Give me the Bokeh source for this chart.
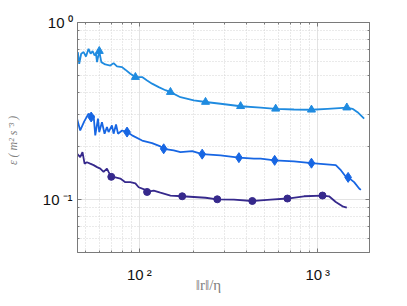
from bokeh.plotting import figure
from bokeh.models import FixedTicker, LogAxis, Range1d
from bokeh.embed import file_html
from bokeh.resources import INLINE

# ---- data ----
top_x = [45.2, 46.0, 47.2, 48.7, 50.2, 51.9, 53.3, 54.7, 56.1, 57.1, 57.9, 59.6, 61.2, 64.4,
         68.7, 71.7, 74.9, 80.0, 83.4, 89.0, 95.0, 103.6, 110.5, 117.8, 128.4, 140.0, 149.4,
         170.0, 201.9, 234.9, 285.1, 369.4, 478.5, 580.8, 736, 922, 1134, 1455, 1566, 1671, 1820]
top_y = [0.680, 0.584, 0.666, 0.680, 0.642, 0.710, 0.666, 0.689, 0.651, 0.666, 0.597, 0.689,
         0.597, 0.579, 0.571, 0.589, 0.564, 0.559, 0.541, 0.513, 0.491, 0.491, 0.470, 0.451,
         0.431, 0.414, 0.404, 0.378, 0.363, 0.355, 0.347, 0.336, 0.330, 0.325, 0.322, 0.321,
         0.325, 0.330, 0.325, 0.311, 0.286]
top_mx = [59.6, 95.0, 149.4, 234.9, 369.4, 580.8, 922, 1455]
top_my = [0.689, 0.491, 0.404, 0.355, 0.336, 0.325, 0.321, 0.330]

mid_x = [44.7, 46.6, 49.1, 51.9, 53.7, 55.4, 56.6, 58.6, 59.6, 61.7, 63.8, 65.8, 67.2, 70.2,
         71.7, 74.0, 75.9, 80.0, 85.3, 91.0, 103.6, 117.8, 131.2, 136.9, 155.8, 170.0, 197.8,
         225.0, 285.1, 361.4, 438.7, 478.5, 573.4, 736, 922, 1262, 1347, 1437, 1480, 1599,
         1706, 1744]
mid_y = [0.286, 0.245, 0.276, 0.305, 0.292, 0.298, 0.230, 0.286, 0.240, 0.273, 0.235, 0.256,
         0.240, 0.262, 0.235, 0.265, 0.235, 0.245, 0.240, 0.230, 0.215, 0.208, 0.199, 0.193,
         0.189, 0.185, 0.187, 0.180, 0.177, 0.172, 0.170, 0.170, 0.166, 0.164, 0.160, 0.156,
         0.146, 0.134, 0.133, 0.125, 0.115, 0.113]
mid_mx = [53.7, 85.3, 136.9, 225.0, 361.4, 573.4, 922, 1480]
mid_my = [0.292, 0.240, 0.193, 0.180, 0.172, 0.166, 0.160, 0.133]

bot_x = [44.7, 46.6, 48.0, 49.3, 50.8, 53.0, 55.4, 57.9, 60.4, 63.0, 65.8, 67.2, 69.6, 73.3,
         78.2, 83.4, 89.0, 95.0, 99.1, 108.1, 110.5, 120.3, 131.2, 149.4, 173.8, 201.9, 234.9,
         273.3, 338.7, 429.7, 478.5, 544.5, 675.9, 837.6, 1063, 1157, 1262, 1376, 1455]
bot_y = [0.181, 0.173, 0.185, 0.159, 0.162, 0.159, 0.156, 0.152, 0.149, 0.143, 0.149, 0.143,
         0.134, 0.133, 0.131, 0.125, 0.125, 0.123, 0.117, 0.113, 0.110, 0.112, 0.109, 0.105,
         0.104, 0.103, 0.102, 0.100, 0.0996, 0.0978, 0.0987, 0.0996, 0.101, 0.104, 0.105,
         0.104, 0.0966, 0.0913, 0.0898]
bot_mx = [69.6, 110.5, 173.8, 273.3, 429.7, 675.9, 1063]
bot_my = [0.134, 0.110, 0.104, 0.100, 0.0978, 0.101, 0.105]

x_major = [100, 1000]
x_minor = [50, 60, 70, 80, 90, 200, 300, 400, 500, 600, 700, 800, 900]
y_major = [0.1, 1.0]
y_minor = [0.06, 0.07, 0.08, 0.09, 0.2, 0.3, 0.4, 0.5, 0.6, 0.7, 0.8, 0.9]
x_labels = {100: "10\u2009²", 1000: "10\u2009³"}
y_labels = {0.1: "10\u2009⁻¹", 1.0: "10\u2009⁰"}

c_top = "#1f8be0"
c_mid = "#1766e3"
c_bot = "#36298c"
frame_c = "#7a7a7a"

p = figure(width=399, height=298, x_axis_type="log", y_axis_type="log",
           x_range=Range1d(45, 1950), y_range=Range1d(0.05, 1.0),
           output_backend="svg", toolbar_location=None,
           min_border_left=77, min_border_right=30, min_border_top=22, min_border_bottom=46)
p.background_fill_color = "white"
p.border_fill_color = "white"
p.outline_line_color = frame_c

xt = FixedTicker(ticks=x_major, minor_ticks=x_minor)
yt = FixedTicker(ticks=y_major, minor_ticks=y_minor)
p.xaxis.ticker = xt
p.yaxis.ticker = yt
p.xgrid.ticker = xt
p.ygrid.ticker = yt
p.xaxis.major_label_overrides = x_labels
p.yaxis.major_label_overrides = y_labels

for ax in (p.xaxis, p.yaxis):
    ax.axis_line_color = frame_c
    ax.major_tick_line_color = frame_c
    ax.minor_tick_line_color = frame_c
    ax.major_tick_in = 4
    ax.major_tick_out = 0
    ax.minor_tick_in = 2
    ax.minor_tick_out = 0
    ax.major_label_text_font = "Liberation Sans"
    ax.major_label_text_font_size = "15px"
    ax.major_label_text_color = "#111111"
    ax.axis_label_text_font = "Liberation Serif"
    ax.axis_label_text_color = "#808080"

p.xaxis.major_label_standoff = 13
p.yaxis.major_label_standoff = 5
p.xaxis.axis_label = "‖r‖/η" + "\u00a0" * 8
p.xaxis.axis_label_text_font_size = "15px"
p.xaxis.axis_label_text_font_style = "normal"
p.xaxis.axis_label_standoff = -9
p.yaxis.axis_label = "ε   ( m² s⁻³ )"
p.yaxis.axis_label_text_font_style = "italic"
p.yaxis.axis_label_text_font_size = "12px"
p.yaxis.axis_label_standoff = 20

for g in (p.xgrid, p.ygrid):
    g.grid_line_color = "#e3e3e3"
    g.grid_line_width = 1
    g.minor_grid_line_color = "#d4d4d4"
    g.minor_grid_line_dash = "1 2"

# mirrored ticks on top and right (box)
def mirror_axis(ticker):
    return LogAxis(ticker=ticker, major_label_text_font_size="2px", major_label_text_alpha=0,
                   major_label_standoff=0,
                   major_tick_in=4, major_tick_out=0, minor_tick_in=2, minor_tick_out=0,
                   axis_line_color=frame_c, major_tick_line_color=frame_c,
                   minor_tick_line_color=frame_c)

p.add_layout(mirror_axis(xt), "above")
p.add_layout(mirror_axis(yt), "right")

p.line(top_x, top_y, line_color=c_top, line_width=1.8)
p.scatter(top_mx, top_my, marker="triangle", size=8, fill_color=c_top, line_color=c_top)
p.line(mid_x, mid_y, line_color=c_mid, line_width=1.8)
p.scatter(mid_mx, mid_my, marker="diamond", size=10, fill_color=c_mid, line_color=c_mid)
p.line(bot_x, bot_y, line_color=c_bot, line_width=1.8)
p.scatter(bot_mx, bot_my, marker="circle", size=7, fill_color=c_bot, line_color=c_bot)

open("out.html", "w").write(file_html(p, INLINE))
